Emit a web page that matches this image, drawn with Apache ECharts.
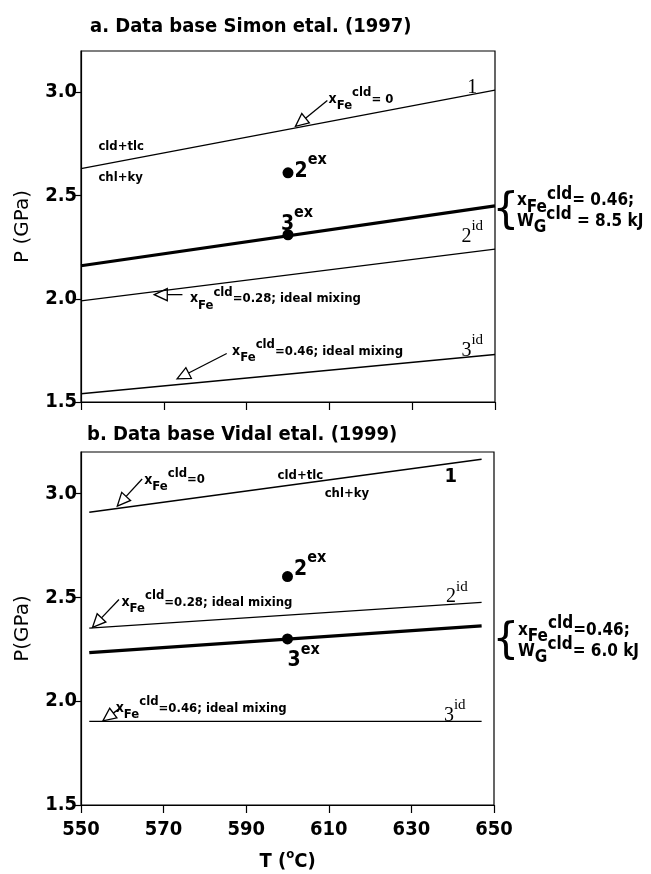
<!DOCTYPE html>
<html><head><meta charset="utf-8">
<script src="https://cdn.jsdelivr.net/npm/echarts@6/dist/echarts.min.js"></script>
<style>html,body{margin:0;padding:0;background:#fff}#c{width:651px;height:874px}</style>
</head><body><div id="c"></div>
<script>
// ---- data (panel a: Simon et al. 1997) ----
const tempEnds_a = [550, 650];
const line1_a = [2.63, 3.01];
const line3ex_a = [2.16, 2.45];
const line2id_a = [1.99, 2.24];
const line3id_a = [1.54, 1.73];
const dotT = [600, 600];
const dotP_a = [2.61, 2.31];
// ---- data (panel b: Vidal et al. 1999) ----
const tempEnds_b = [552, 647];
const line1_b = [2.91, 3.165];
const line2id_b = [2.352, 2.476];
const line3ex_b = [2.234, 2.363];
const line3id_b = [1.903, 1.903];
const dotP_b = [2.60, 2.30];
// ---- axes ----
const xTicks = [550, 570, 590, 610, 630, 650];
const yTicks = [1.5, 2.0, 2.5, 3.0];
const titles = ['a. Data base Simon etal. (1997)', 'b. Data base Vidal etal. (1999)'];

const F = "'DejaVu Sans Condensed','DejaVu Sans',sans-serif";
const FS = "'Liberation Serif','DejaVu Serif',serif";
const chart = echarts.init(document.getElementById('c'));

function pairs(ts, ps) { return ts.map((t, i) => [t, ps[i]]); }
function lineSeries(gi, ts, ps, w) {
  return { type: 'line', xAxisIndex: gi, yAxisIndex: gi, data: pairs(ts, ps), symbol: 'none',
    lineStyle: { color: '#000', width: w }, silent: true, animation: false };
}
function dotSeries(gi, ps) {
  return { type: 'scatter', xAxisIndex: gi, yAxisIndex: gi, data: pairs(dotT, ps), symbol: 'circle',
    symbolSize: 11, itemStyle: { color: '#000', opacity: 1 }, silent: true, animation: false, z: 5 };
}
function xAx(gi, showLabel) {
  return { type: 'value', gridIndex: gi, min: 550, max: 650, interval: 20,
    axisLine: { lineStyle: { color: '#000', width: 1.2 } },
    axisTick: { show: true, length: 8, customValues: xTicks, lineStyle: { color: '#000', width: 1.2 } },
    axisLabel: { show: showLabel, color: '#000', fontWeight: 'bold', fontSize: 20, fontFamily: F, margin: 15, customValues: xTicks },
    splitLine: { show: false },
    name: showLabel ? '{n|T (}{s|o}{n|C)}' : '', nameLocation: 'middle', nameGap: 43,
    nameTextStyle: { color: '#000', fontWeight: 'bold', fontSize: 20, fontFamily: F,
      rich: {
        n: { fontSize: 20, fontWeight: 'bold', fontFamily: F, lineHeight: 24, verticalAlign: 'bottom', color: '#000' },
        s: { fontSize: 13, fontWeight: 'bold', fontFamily: F, verticalAlign: 'top', color: '#000' } } }
  };
}
function yAx(gi, name) {
  return { type: 'value', gridIndex: gi, min: 1.5, max: 3.2, interval: 0.5,
    axisLine: { show: true, lineStyle: { color: '#000', width: 1.2 } },
    axisTick: { show: true, length: 8, customValues: yTicks, lineStyle: { color: '#000', width: 1.2 } },
    axisLabel: { color: '#000', fontWeight: 'bold', fontSize: 20, fontFamily: F, margin: 4,
      customValues: yTicks, formatter: v => v.toFixed(1) },
    splitLine: { show: false },
    name: name, nameLocation: 'middle', nameGap: 48,
    nameTextStyle: { color: '#000', fontSize: 20, fontFamily: "'DejaVu Sans',sans-serif" }
  };
}

chart.setOption({
  animation: false,
  backgroundColor: '#fff',
  title: [
    { text: titles[0], left: 85, top: 12, textStyle: { fontSize: 20, fontWeight: 'bold', fontFamily: F, color: '#000' } },
    { text: titles[1], left: 82, top: 420, textStyle: { fontSize: 20, fontWeight: 'bold', fontFamily: F, color: '#000' } }
  ],
  grid: [
    { left: 81, top: 51, width: 414, height: 351, show: true, borderColor: '#000', borderWidth: 1.2, backgroundColor: 'transparent', outerBoundsMode: 'none', containLabel: false },
    { left: 81, top: 452, width: 413, height: 353, show: true, borderColor: '#000', borderWidth: 1.2, backgroundColor: 'transparent', outerBoundsMode: 'none', containLabel: false }
  ],
  xAxis: [xAx(0, false), xAx(1, true)],
  yAxis: [yAx(0, 'P (GPa)'), yAx(1, 'P(GPa)')],
  series: [
    lineSeries(0, tempEnds_a, line1_a, 1.3),
    lineSeries(0, tempEnds_a, line3ex_a, 3.2),
    lineSeries(0, tempEnds_a, line2id_a, 1.3),
    lineSeries(0, tempEnds_a, line3id_a, 1.3),
    dotSeries(0, dotP_a),
    lineSeries(1, tempEnds_b, line1_b, 1.6),
    lineSeries(1, tempEnds_b, line2id_b, 1.3),
    lineSeries(1, tempEnds_b, line3ex_b, 3.2),
    lineSeries(1, tempEnds_b, line3id_b, 1.3),
    dotSeries(1, dotP_b)
  ]
});

// ---- annotations ----
function px(gi, t, p) { return chart.convertToPixel({ gridIndex: gi }, [t, p]); }
const S = 13;
const richSmall = {
  n: { fontSize: S, fontWeight: 'bold', fontFamily: F, lineHeight: 26, verticalAlign: 'middle', fill: '#000' },
  x: { fontSize: 14, fontWeight: 'bold', fontFamily: F, lineHeight: 26, verticalAlign: 'middle', fill: '#000' },
  sb: { fontSize: S, fontWeight: 'bold', fontFamily: F, verticalAlign: 'bottom', fill: '#000' },
  sp: { fontSize: S, fontWeight: 'bold', fontFamily: F, verticalAlign: 'top', fill: '#000' }
};
const richBig = {
  n: { fontSize: 17, fontWeight: 'bold', fontFamily: F, lineHeight: 30, verticalAlign: 'middle', fill: '#000' },
  x: { fontSize: 17, fontWeight: 'bold', fontFamily: F, lineHeight: 30, verticalAlign: 'middle', fill: '#000' },
  sb: { fontSize: 17, fontWeight: 'bold', fontFamily: F, verticalAlign: 'bottom', fill: '#000' },
  sp: { fontSize: 17, fontWeight: 'bold', fontFamily: F, verticalAlign: 'top', fill: '#000' }
};
const richNum = {
  n: { fontSize: 21, fontWeight: 'bold', fontFamily: F, lineHeight: 30, verticalAlign: 'bottom', fill: '#000' },
  sp: { fontSize: 16, fontWeight: 'bold', fontFamily: F, verticalAlign: 'top', fill: '#000' }
};
const richSerif = {
  n: { fontSize: 20, fontFamily: FS, lineHeight: 28, verticalAlign: 'bottom', fill: '#000' },
  sp: { fontSize: 15, fontFamily: FS, verticalAlign: 'top', fill: '#000' }
};
const G = [];
function txt(gi, t, p, text, rich, align) {
  const [x, y] = px(gi, t, p);
  G.push({ type: 'text', x, y, silent: true, style: { text, rich, align: align || 'left', verticalAlign: 'middle', fill: '#000' } });
}
function plain(gi, t, p, text, font, align) {
  const [x, y] = px(gi, t, p);
  G.push({ type: 'text', x, y, silent: true, style: { text, font, align: align || 'left', verticalAlign: 'middle', fill: '#000' } });
}
function arrow(gi, t0, p0, t1, p1) {
  const [x0, y0] = px(gi, t0, p0), [x1, y1] = px(gi, t1, p1);
  const dx = x1 - x0, dy = y1 - y0, L = Math.hypot(dx, dy), ux = dx / L, uy = dy / L;
  const hl = 13, hw = 6;
  const bx = x1 - ux * hl, by = y1 - uy * hl;
  G.push({ type: 'line', silent: true, shape: { x1: x0, y1: y0, x2: bx, y2: by }, style: { stroke: '#000', lineWidth: 1.3 } });
  G.push({ type: 'polygon', silent: true, shape: { points: [[x1, y1], [bx - uy * hw, by + ux * hw], [bx + uy * hw, by - ux * hw]] },
    style: { fill: '#fff', stroke: '#000', lineWidth: 1.3 } });
}
function brace(gi, t, p, h) {
  const [x, y] = px(gi, t, p);
  G.push({ type: 'text', x, y, silent: true, style: { text: '{', font: h + "px 'DejaVu Sans',sans-serif", align: 'center', verticalAlign: 'middle', fill: '#000' } });
}
const xfe = (rest) => '{x|x}{sb|Fe}{sp|cld}{n|' + rest + '}';
const smallFont = 'bold ' + S + "px " + F;

// panel a
txt(0, 644.5, 3.04, '{n|1}', richSerif, 'center');
plain(0, 554.2, 2.735, 'cld+tlc', smallFont);
plain(0, 554.2, 2.585, 'chl+ky', smallFont);
txt(0, 609.8, 2.965, xfe('= 0'), richSmall);
arrow(0, 609.5, 2.96, 601.8, 2.835);
txt(0, 601.6, 2.64, '{n|2}{sp|ex}', richNum);
txt(0, 598.3, 2.38, '{n|3}{sp|ex}', richNum);
txt(0, 644.5, 2.32, '{n|2}{sp|id}', richSerif, 'center');
arrow(0, 574.5, 2.02, 567.7, 2.02);
txt(0, 576.3, 2.0, xfe('=0.28; ideal mixing'), richSmall);
txt(0, 586.5, 1.745, xfe('=0.46; ideal mixing'), richSmall);
arrow(0, 585.2, 1.735, 573.2, 1.612);
txt(0, 644.5, 1.77, '{n|3}{sp|id}', richSerif, 'center');
brace(0, 652.6, 2.42, 42);
txt(0, 655.3, 2.475, xfe('= 0.46;'), richBig);
txt(0, 655.3, 2.375, '{n|W}{sb|G}{sp|cld}{n| = 8.5 kJ}', richBig);

// panel b
txt(1, 565.3, 3.065, xfe('=0'), richSmall);
arrow(1, 564.8, 3.07, 558.8, 2.94);
plain(1, 597.6, 3.087, 'cld+tlc', smallFont);
plain(1, 609.0, 3.0, 'chl+ky', smallFont);
plain(1, 639.5, 3.08, '1', 'bold 20px ' + F, 'center');
txt(1, 601.6, 2.655, '{n|2}{sp|ex}', richNum);
txt(1, 559.8, 2.475, xfe('=0.28; ideal mixing'), richSmall);
arrow(1, 559.2, 2.49, 552.8, 2.356);
txt(1, 641.0, 2.52, '{n|2}{sp|id}', richSerif, 'center');
txt(1, 600.0, 2.215, '{n|3}{sp|ex}', richNum);
brace(1, 652.9, 2.285, 42);
txt(1, 655.8, 2.34, xfe('=0.46;'), richBig);
txt(1, 655.8, 2.24, '{n|W}{sb|G}{sp|cld}{n|= 6.0 kJ}', richBig);
txt(1, 558.4, 1.965, xfe('=0.46; ideal mixing'), richSmall);
arrow(1, 559.4, 1.966, 555.3, 1.905);
txt(1, 640.5, 1.95, '{n|3}{sp|id}', richSerif, 'center');

chart.setOption({ graphic: G });
</script></body></html>
